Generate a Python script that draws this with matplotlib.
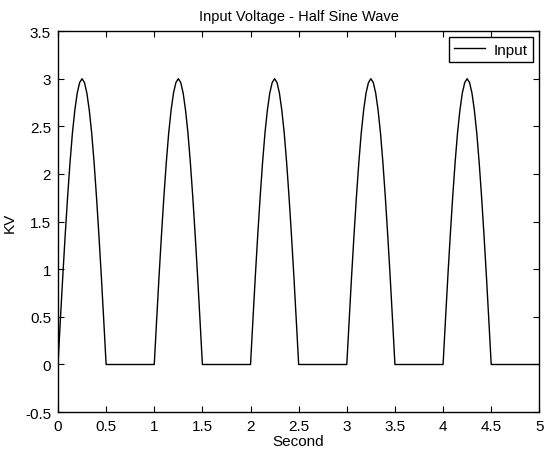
import matplotlib
matplotlib.use("Agg")
import matplotlib.pyplot as plt

# --- data ---
cycle_start = [0, 1, 2, 3, 4]          # seconds, one arch per cycle
arch_t = [0.0, 0.025, 0.05, 0.075, 0.1, 0.125, 0.15, 0.175, 0.2, 0.225, 0.25,
          0.275, 0.3, 0.325, 0.35, 0.375, 0.4, 0.425, 0.45, 0.475, 0.5]
arch_kv = [0.0, 0.47, 0.93, 1.36, 1.76, 2.12, 2.43, 2.67, 2.85, 2.96, 3.0,
           2.96, 2.85, 2.67, 2.43, 2.12, 1.76, 1.36, 0.93, 0.47, 0.0]
flat_t = [0.5, 1.0]                    # zero part of each cycle
flat_kv = [0.0, 0.0]

x_ticks = [0, 0.5, 1, 1.5, 2, 2.5, 3, 3.5, 4, 4.5, 5]
x_labels = ['0', '0.5', '1', '1.5', '2', '2.5', '3', '3.5', '4', '4.5', '5']
y_ticks = [-0.5, 0, 0.5, 1, 1.5, 2, 2.5, 3, 3.5]
y_labels = ['-0.5', '0', '0.5', '1', '1.5', '2', '2.5', '3', '3.5']

# build the series from the cycles
t_vals, kv_vals = [], []
for c in cycle_start:
    t_vals += [c + t for t in arch_t] + [c + t for t in flat_t]
    kv_vals += arch_kv + flat_kv

plt.rcParams['font.family'] = ['Liberation Sans', 'DejaVu Sans']

fig = plt.figure(figsize=(5.47, 4.52), dpi=100)
ax = fig.add_axes([0.106, 0.086, 0.880, 0.843])

ax.plot(t_vals, kv_vals, color='black', linewidth=1.0, label='Input')

ax.set_xlim(0, 5)
ax.set_ylim(-0.5, 3.5)
ax.set_xticks(x_ticks)
ax.set_xticklabels(x_labels)
ax.set_yticks(y_ticks)
ax.set_yticklabels(y_labels)
ax.tick_params(direction='in', top=True, right=True, labelsize=11, length=4, pad=5)

for s in ax.spines.values():
    s.set_linewidth(1.0)

ax.set_title("Input Voltage - Half Sine Wave", fontsize=10.5, pad=8)
ax.set_xlabel("Second", fontsize=11, labelpad=1)
ax.set_ylabel("KV", fontsize=11, labelpad=6)

leg = ax.legend(loc='upper right', fancybox=False, framealpha=1, edgecolor='black',
                fontsize=11, handlelength=2.0, handletextpad=0.6,
                borderpad=0.35, borderaxespad=0.4)
leg.get_frame().set_linewidth(1.0)

fig.savefig("out.png", dpi=100)
